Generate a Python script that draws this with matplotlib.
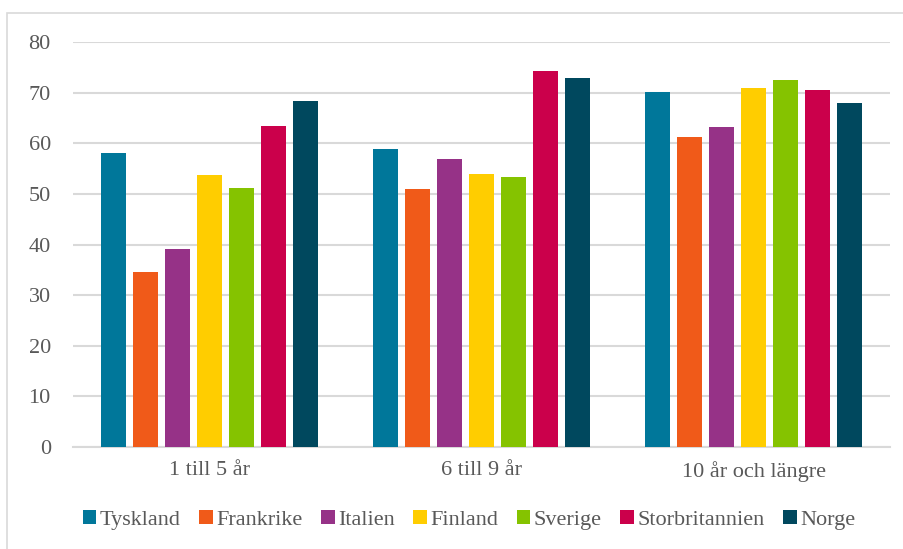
import numpy as np
import matplotlib
matplotlib.use("Agg")
import matplotlib.pyplot as plt
from matplotlib.patches import Rectangle

# Data
categories = ["1 till 5 år", "6 till 9 år", "10 år och längre"]
countries = ["Tyskland", "Frankrike", "Italien", "Finland", "Sverige", "Storbritannien", "Norge"]
tyskland = [58.1, 58.9, 70.2]
frankrike = [34.6, 51.0, 61.3]
italien = [39.1, 56.8, 63.2]
finland = [53.8, 53.9, 71.0]
sverige = [51.1, 53.3, 72.4]
storbritannien = [63.5, 74.3, 70.6]
norge = [68.4, 72.8, 68.0]
series = [tyskland, frankrike, italien, finland, sverige, storbritannien, norge]
colors = ["#00779A", "#F05A19", "#963287", "#FFCD00", "#85C300", "#CB004B", "#00485E"]

plt.rcParams['font.family'] = ['Liberation Serif', 'DejaVu Serif']
txt = "#595959"

fig = plt.figure(figsize=(9.04, 5.49), dpi=100)
# chart border
fig.patches.append(Rectangle((7 / 904, -0.01), 1.0, 1 - 13 / 549 + 0.01, transform=fig.transFigure,
                             fill=False, edgecolor="#d9d9d9", linewidth=1.2))

ax = fig.add_axes([73 / 904, 1 - 447 / 549, (890 - 73) / 904, (447 - 42) / 549])

x = np.arange(len(categories))
step = 0.1176
width = 0.092
for i, (vals, c, name) in enumerate(zip(series, colors, countries)):
    ax.bar(x + (i - 3) * step, vals, width, color=c, label=name, zorder=3)

ax.set_xlim(-0.5, 2.5)
ax.set_ylim(0, 80)
ax.set_yticks(range(0, 81, 10))
ax.set_xticks(x)
ax.set_xticklabels(categories)
ax.grid(axis="y", color="#d9d9d9", linewidth=1.5, zorder=0)
for s in ["top", "right", "left"]:
    ax.spines[s].set_visible(False)
ax.spines["bottom"].set_color("#d9d9d9")
ax.spines["bottom"].set_linewidth(1.5)
ax.tick_params(axis="both", length=0, colors=txt, labelsize=16)
ax.tick_params(axis="y", pad=16)
ax.tick_params(axis="x", pad=10)

fig.legend(loc="center", bbox_to_anchor=(469 / 904, 1 - 520 / 549), ncol=7, frameon=False,
           handlelength=0.6, handleheight=0.6, handletextpad=0.15, columnspacing=0.85,
           prop={"size": 16}, labelcolor=txt)

fig.savefig("out.png", dpi=100)
